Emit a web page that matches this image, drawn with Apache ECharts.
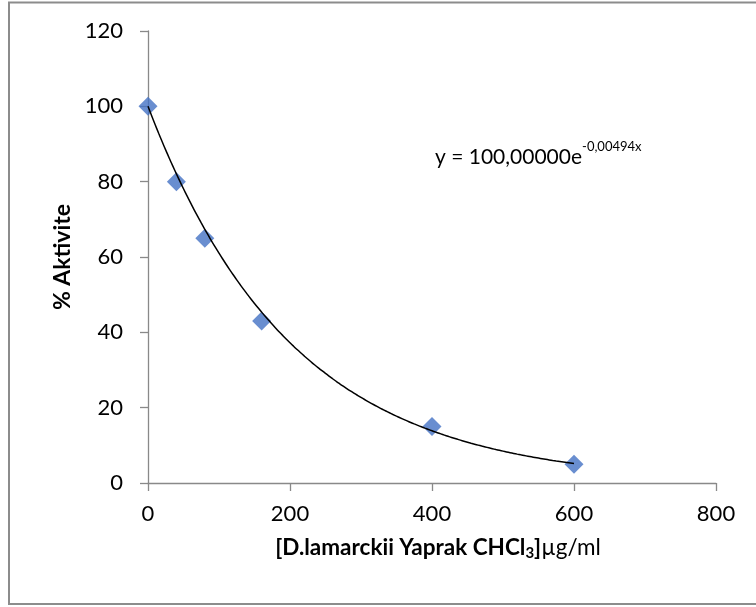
<!DOCTYPE html>
<html>
<head>
<meta charset="utf-8">
<script src="https://cdn.jsdelivr.net/npm/echarts@6/dist/echarts.min.js"></script>
<style>
  html, body { margin: 0; padding: 0; background: #fff; }
  #chart { width: 756px; height: 607px; }
</style>
</head>
<body>
<div id="chart"></div>
<script>
// Concentration (µg/ml) and measured % activity
const concentrations = [0, 40, 80, 160, 400, 600];
const activity = [100, 80, 65, 43, 15, 5];

// Exponential trendline y = A * e^(k x), as printed on the chart
const TREND_A = 100;
const TREND_K = -0.00494;
const TREND_STEP = 5;

const xTicks = [0, 200, 400, 600, 800];
const yTicks = [0, 20, 40, 60, 80, 100, 120];

const trend = [];
for (let x = concentrations[0]; x <= concentrations[concentrations.length - 1]; x += TREND_STEP) {
  trend.push([x, TREND_A * Math.exp(TREND_K * x)]);
}

const FONT = 'Lato';
const axisGray = '#898989';

const chart = echarts.init(document.getElementById('chart'), null, { renderer: 'canvas' });
chart.setOption({
  animation: false,
  backgroundColor: '#fff',
  textStyle: { fontFamily: FONT },
  grid: { left: 148, right: 40, top: 31, bottom: 124, containLabel: false },
  xAxis: {
    type: 'value',
    min: xTicks[0],
    max: xTicks[xTicks.length - 1],
    interval: xTicks[1] - xTicks[0],
    axisLine: { show: true, onZero: false, lineStyle: { color: axisGray, width: 1.3 } },
    axisTick: { show: true, length: 8, lineStyle: { color: axisGray, width: 1.3 } },
    splitLine: { show: false },
    axisLabel: { fontFamily: FONT, fontSize: 22, color: '#000', margin: 20 },
    name: '{b|[D.lamarckii Yaprak CHCl}{sub|3}{b|]}{n|µg/ml}',
    nameLocation: 'middle',
    nameGap: 52,
    nameTextStyle: {
      padding: [0, 0, 0, 12],
      rich: {
        b: { fontFamily: FONT, fontWeight: 'bold', fontSize: 22.5, color: '#000', lineHeight: 26 },
        sub: { fontFamily: FONT, fontWeight: 'bold', fontSize: 15, color: '#000', lineHeight: 15, verticalAlign: 'bottom', padding: [6, 0, 0, 0] },
        n: { fontFamily: FONT, fontSize: 22.5, color: '#000', lineHeight: 26 }
      }
    }
  },
  yAxis: {
    type: 'value',
    min: yTicks[0],
    max: yTicks[yTicks.length - 1],
    interval: yTicks[1] - yTicks[0],
    axisLine: { show: true, onZero: false, lineStyle: { color: axisGray, width: 1.3 } },
    axisTick: { show: true, length: 8, lineStyle: { color: axisGray, width: 1.3 } },
    splitLine: { show: false },
    axisLabel: { fontFamily: FONT, fontSize: 22, color: '#000', margin: 25 },
    name: '% Aktivite',
    nameLocation: 'middle',
    nameGap: 74,
    nameTextStyle: { fontFamily: FONT, fontWeight: 'bold', fontSize: 23, color: '#000' }
  },
  series: [
    {
      type: 'line',
      data: trend,
      showSymbol: false,
      symbol: 'none',
      smooth: true,
      lineStyle: { color: '#000', width: 1.5 },
      z: 3
    },
    {
      type: 'scatter',
      data: concentrations.map((x, i) => [x, activity[i]]),
      symbol: 'diamond',
      symbolSize: 19,
      itemStyle: { color: '#4472C4' },
      z: 2
    }
  ],
  graphic: [
    {
      type: 'rect',
      shape: { x: 9, y: 2.5, width: 800, height: 601.5 },
      style: { fill: 'none', stroke: '#8c8c8c', lineWidth: 2 },
      silent: true
    },
    {
      type: 'text',
      left: 435, top: 140,
      style: {
        text: '{m|y = 100,00000e}{sup|-0,00494x}',
        rich: {
          m: { fontFamily: FONT, fontSize: 21, fill: '#000', lineHeight: 28, verticalAlign: 'bottom' },
          sup: { fontFamily: FONT, fontSize: 13, fill: '#000', lineHeight: 28, verticalAlign: 'top', padding: [0, 0, 10, 0] }
        }
      }
    }
  ]
});
</script>
</body>
</html>
